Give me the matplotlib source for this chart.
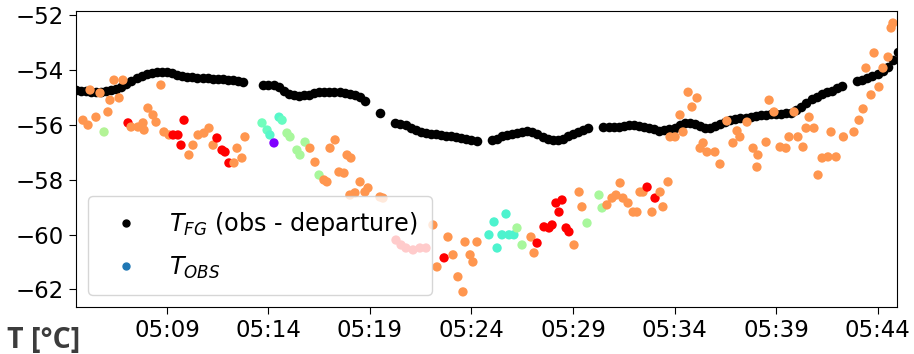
import numpy as np
import matplotlib
matplotlib.use("Agg")
import matplotlib.pyplot as plt
from matplotlib.lines import Line2D

# first-guess temperature, sampled every 15 s (minutes after 05:00), nan = no data
fg_start = 4.5
fg_step = 0.25
t_fg = [
    -54.73, -54.75, -54.78, -54.79, -54.80, -54.80, -54.78, -54.74, -54.70, -54.62,
    -54.52, -54.40, -54.30, -54.22, -54.13, -54.10, -54.08, -54.07, -54.08, -54.12,
    -54.18, -54.22, -54.24, -54.27, -54.29, -54.30, -54.31, -54.32, -54.33, -54.34,
    -54.36, -54.38, -54.40, -54.44, np.nan, np.nan, np.nan, -54.55, -54.56, -54.55,
    -54.62, -54.75, -54.86, -54.92, -54.95, -54.93, -54.90, -54.85, -54.80, -54.79,
    -54.80, -54.80, -54.81, -54.85, -54.88, -54.93, -54.99, -55.12, np.nan, np.nan,
    -55.57, np.nan, np.nan, -55.92, -55.97, -56.02, -56.12, -56.20, -56.26, -56.30,
    -56.32, -56.34, -56.36, -56.39, -56.42, -56.45, -56.48, -56.52, -56.56, -56.60,
    np.nan, np.nan, -56.56, -56.50, -56.42, -56.38, -56.33, -56.28, -56.25, -56.24,
    -56.27, -56.34, -56.44, -56.52, -56.57, -56.55, -56.50, -56.42, -56.35, -56.27,
    -56.18, -56.12, np.nan, np.nan, -56.07, -56.07, -56.08, -56.08, -56.05, -56.01,
    -56.02, -56.05, -56.08, -56.12, -56.17, -56.21, -56.20, -56.17, -56.12, -56.02,
    -55.94, -55.93, -55.97, -56.04, -56.12, -56.13, -56.05, -55.97, -55.90, -55.84,
    -55.79, -55.76, -55.74, -55.72, -55.69, -55.66, -55.64, -55.62, -55.61, -55.60,
    -55.58, -55.56, -55.47, -55.36, -55.20, -55.07, -54.97, -54.89, -54.81, -54.75,
    -54.67, -54.59, np.nan, np.nan, -54.40, -54.35, -54.29, -54.22, -54.14, -54.05,
    -53.88, -53.62, -53.35,
]

# observations: time (min after 05:00), temperature, flag (colour on rainbow map)
obs_time = [
    4.86, 5.11, 5.21, 5.50, 5.70, 5.90, 6.09, 6.19, 6.39, 6.64,
    6.83, 7.08, 7.23, 7.57, 7.82, 7.87, 8.06, 8.31, 8.46, 8.70,
    8.85, 9.10, 9.30, 9.54, 9.69, 9.84, 10.08, 10.28, 10.53, 10.82,
    11.07, 11.27, 11.46, 11.71, 11.86, 12.05, 12.30, 12.45, 12.69, 12.84,
    13.68, 13.93, 14.07, 14.27, 14.52, 14.67, 14.91, 15.06, 15.40, 15.55,
    15.80, 16.04, 16.29, 16.49, 16.73, 16.88, 17.03, 17.28, 17.47, 17.72,
    17.87, 18.06, 18.01, 18.26, 18.51, 18.75, 18.90, 19.49, 19.64, 20.28,
    20.53, 20.77, 21.12, 21.46, 21.76, 22.10, 22.30, 22.65, 22.84, 23.09,
    23.33, 23.58, 23.68, 23.93, 24.07, 24.27, 24.86, 25.11, 25.26, 25.50,
    25.70, 25.85, 26.09, 26.24, 26.49, 26.93, 27.08, 27.23, 27.57, 27.82,
    27.97, 28.16, 28.46, 28.31, 28.66, 28.80, 29.05, 29.30, 29.44, 29.69,
    30.28, 30.43, 30.67, 30.92, 31.12, 31.32, 31.46, 31.71, 31.96, 32.15,
    32.30, 32.45, 32.65, 33.04, 32.89, 33.29, 33.43, 33.68, 33.78, 34.03,
    34.42, 34.27, 34.67, 34.86, 35.11, 35.26, 35.41, 35.60, 35.99, 36.24,
    36.58, 36.88, 37.08, 37.22, 37.57, 37.87, 38.11, 38.06, 38.51, 38.66,
    38.90, 39.20, 39.49, 39.64, 39.89, 40.08, 40.33, 40.48, 40.63, 40.87,
    41.07, 41.27, 41.56, 41.71, 41.96, 42.32, 42.84, 43.09, 43.29, 43.43,
    43.68, 43.83, 44.07, 44.27, 44.52, 44.67, 44.76,
]
obs_temp = [
    -55.83, -56.01, -54.73, -55.72, -54.84, -56.26, -55.53, -55.10, -54.37, -55.02,
    -54.37, -55.93, -56.08, -56.08, -55.93, -56.19, -55.39, -55.64, -55.90, -54.55,
    -56.26, -56.37, -56.37, -56.37, -56.74, -55.83, -57.10, -56.74, -56.37, -56.30,
    -56.12, -56.74, -56.48, -56.92, -56.99, -57.39, -57.39, -56.85, -57.21, -56.44,
    -55.93, -56.19, -56.37, -56.66, -55.72, -55.83, -56.30, -56.44, -56.92, -57.10,
    -56.63, -56.85, -57.36, -57.83, -58.01, -58.08, -56.85, -56.55, -57.72, -57.76,
    -57.10, -57.21, -58.56, -58.48, -58.08, -58.45, -58.30, -58.63, -58.67, -60.20,
    -60.38, -60.49, -60.56, -60.49, -60.49, -59.65, -61.18, -60.85, -60.09, -60.74,
    -61.54, -62.09, -60.27, -60.74, -61.00, -60.27, -60.01, -59.54, -60.49, -60.01,
    -59.25, -60.01, -60.01, -59.76, -60.38, -60.09, -60.67, -60.31, -59.72, -59.76,
    -59.65, -58.85, -58.74, -59.18, -59.76, -59.90, -60.38, -58.45, -58.99, -59.58,
    -58.56, -59.03, -58.92, -58.67, -58.56, -58.12, -58.67, -58.85, -59.18, -59.18,
    -58.45, -58.45, -58.27, -58.67, -59.18, -58.45, -58.99, -58.08, -56.44, -56.44,
    -56.26, -55.64, -54.81, -55.35, -55.02, -56.85, -56.66, -56.99, -56.99, -57.43,
    -55.86, -56.66, -56.22, -56.44, -55.90, -56.85, -57.10, -57.54, -56.63, -55.10,
    -55.53, -56.81, -56.85, -56.44, -55.53, -56.44, -56.81, -56.12, -55.72, -56.12,
    -57.83, -57.21, -57.17, -56.26, -57.17, -56.44, -56.26, -55.83, -55.42, -53.93,
    -54.91, -53.38, -54.62, -53.93, -53.53, -52.47, -52.29,
]
obs_flag = [
    0.8, 0.8, 0.8, 0.8, 0.8, 0.6, 0.8, 0.8, 0.8, 0.8,
    0.8, 1.0, 0.8, 0.8, 0.8, 0.8, 0.8, 0.8, 0.8, 0.8,
    0.8, 0.8, 1.0, 1.0, 1.0, 1.0, 0.8, 0.8, 0.8, 0.8,
    0.8, 0.8, 1.0, 1.0, 1.0, 1.0, 0.8, 0.8, 0.8, 0.8,
    0.47, 0.45, 0.42, 0.0, 0.42, 0.45, 0.58, 0.58, 0.58, 0.58,
    0.58, 0.8, 0.8, 0.58, 0.8, 0.8, 0.8, 0.8, 0.8, 0.8,
    0.8, 0.8, 0.8, 0.8, 0.8, 0.8, 0.8, 0.8, 0.8, 1.0,
    1.0, 1.0, 1.0, 1.0, 1.0, 0.8, 0.8, 1.0, 0.8, 0.8,
    0.8, 0.8, 0.8, 0.8, 0.8, 0.8, 0.4, 0.4, 0.4, 0.4,
    0.4, 0.4, 0.4, 0.58, 0.58, 0.8, 0.8, 1.0, 1.0, 1.0,
    1.0, 1.0, 1.0, 1.0, 1.0, 1.0, 0.8, 0.8, 0.8, 0.58,
    0.58, 0.58, 0.8, 0.8, 0.8, 0.8, 0.8, 0.8, 0.8, 0.8,
    0.8, 0.8, 1.0, 1.0, 0.8, 0.8, 0.8, 0.8, 0.8, 0.8,
    0.8, 0.8, 0.8, 0.8, 0.8, 0.8, 0.8, 0.8, 0.8, 0.8,
    0.8, 0.8, 0.8, 0.8, 0.8, 0.8, 0.8, 0.8, 0.8, 0.8,
    0.8, 0.8, 0.8, 0.8, 0.8, 0.8, 0.8, 0.8, 0.8, 0.8,
    0.8, 0.8, 0.8, 0.8, 0.8, 0.8, 0.8, 0.8, 0.8, 0.8,
    0.8, 0.8, 0.8, 0.8, 0.8, 0.8, 0.8,
]

xtick_pos = [9, 14, 19, 24, 29, 34, 39, 44]
xtick_labels = ["05:09", "05:14", "05:19", "05:24", "05:29", "05:34", "05:39", "05:44"]
ytick_pos = [-62, -60, -58, -56, -54, -52]

fg_time = fg_start + fg_step * np.arange(len(t_fg))

fig = plt.figure(figsize=(9.14, 3.54), dpi=100)
ax = fig.add_axes([0.0832, 0.1328, 0.8982, 0.8362])

ax.scatter(fg_time, t_fg, s=48, c="black", linewidths=0)
ax.scatter(obs_time, obs_temp, s=45, c=obs_flag, cmap="rainbow",
           vmin=0, vmax=1, linewidths=0)

ax.set_xlim(4.52, 44.96)
ax.set_ylim(-62.64, -51.85)
ax.set_xticks(xtick_pos)
ax.set_xticklabels(xtick_labels)
ax.set_yticks(ytick_pos)
ax.tick_params(labelsize=16.5, length=5)

handles = [
    Line2D([], [], ls="", marker="o", ms=5, color="black"),
    Line2D([], [], ls="", marker="o", ms=5, color="C0"),
]
ax.legend(handles, [r"$T_{FG}$ (obs - departure)", r"$T_{OBS}$"],
          loc="lower left", fontsize=17.2, labelspacing=0.68, borderpad=0.6)

fig.text(0.008, 0.018, "T [°C]", fontsize=20.5, fontweight="bold",
         family="Open Sans", color="#3c3c3c")

fig.savefig("out.png", dpi=100)
